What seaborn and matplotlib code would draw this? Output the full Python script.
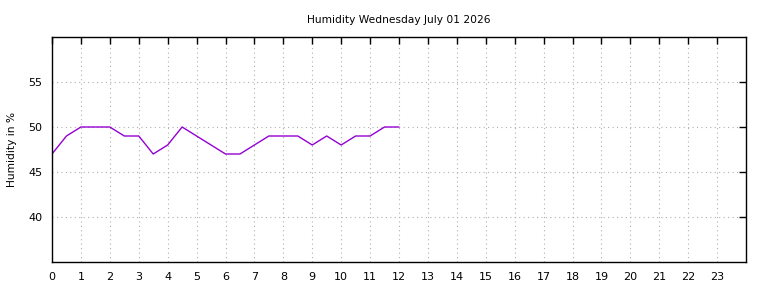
import matplotlib
matplotlib.use("Agg")
import matplotlib.pyplot as plt
import pandas as pd
import seaborn as sns

# humidity readings, every half hour
hours = [0, 0.5, 1, 1.5, 2, 2.5, 3, 3.5, 4, 4.5, 5, 5.5, 6, 6.5, 7, 7.5,
         8, 8.5, 9, 9.5, 10, 10.5, 11, 11.5, 12]
humidity = [47, 49, 50, 50, 50, 49, 49, 47, 48, 50, 49, 48, 47, 47, 48, 49,
            49, 49, 48, 49, 48, 49, 49, 50, 50]
xticks = list(range(0, 24))
yticks = [40, 45, 50, 55]

data = pd.DataFrame({'hour': hours, 'humidity': humidity})

sns.set_style('white')
plt.rcParams['font.family'] = ['DejaVu Sans']
plt.rcParams['text.color'] = 'black'

fig = plt.figure(figsize=(7.68, 2.88), dpi=100)
ax = fig.add_axes([52 / 768, 1 - 262 / 288, (746 - 52) / 768, (262 - 37) / 288])

sns.lineplot(x='hour', y='humidity', data=data, ax=ax, color='#9400D3', linewidth=1)

ax.set_xlim(0, 24)
ax.set_ylim(35, 60)
ax.set_xticks(xticks)
ax.set_yticks(yticks)
ax.tick_params(direction='in', length=5, width=1, labelsize=8, color='black',
               labelcolor='black', top=True, right=True, labelright=False, pad=7)
ax.grid(True, linestyle=(0, (1, 3)), color='#b0b0b0', linewidth=0.8)
for s in ax.spines.values():
    s.set_color('black')
    s.set_linewidth(1)

# labels
ax.set_xlabel('')
ax.set_ylabel('Humidity in %', fontsize=7.7, color='black', labelpad=8)
ax.set_title('Humidity Wednesday July 01 2026', fontsize=7.7, color='black', pad=10)

fig.savefig('out.png', dpi=100)
